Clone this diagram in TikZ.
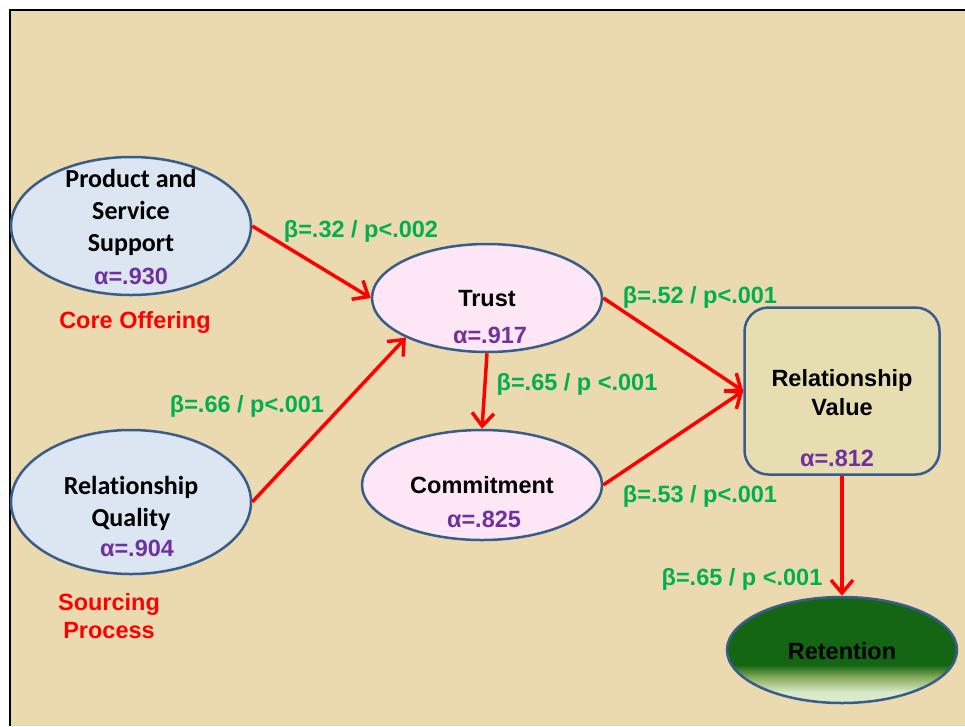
\documentclass[tikz,border=0pt]{standalone}
\usepackage{fontspec}
\setmainfont{Liberation Sans}
\newfontfamily\calibri[Ligatures=NoCommon]{Carlito}
\usetikzlibrary{shapes.geometric,arrows.meta}
\definecolor{paper}{RGB}{235,217,175}
\definecolor{rim}{RGB}{56,93,138}
\definecolor{skyfill}{RGB}{220,230,242}
\definecolor{pinkfill}{RGB}{253,230,246}
\definecolor{sandfill}{RGB}{230,222,176}
\definecolor{betagreen}{RGB}{0,176,80}
\definecolor{alphapurple}{RGB}{112,48,160}
\definecolor{retdark}{RGB}{20,102,20}
\definecolor{retmid}{RGB}{140,172,95}
\definecolor{retpale}{RGB}{218,234,202}
% dark green fading to pale at the bottom
\pgfdeclareverticalshading{retfade}{100bp}{color(0bp)=(retpale); color(30bp)=(retpale);
  color(37bp)=(retmid); color(43bp)=(retdark); color(100bp)=(retdark)}
\newcommand{\arialbig}{\fontsize{23.5}{29}\selectfont\bfseries}

\begin{document}
\begin{tikzpicture}[x=1pt,y=-1pt,
  blob/.style={ellipse,draw=rim,line width=2.5pt,inner sep=0pt},
  tit/.style={font=\arialbig,align=center},
  cal/.style={font=\calibri\fontsize{26}{32}\selectfont\bfseries,align=center},
  alph/.style={font=\arialbig,text=alphapurple},
  beta/.style={font=\arialbig,text=betagreen},
  grp/.style={font=\arialbig,text=red,align=center},
  eff/.style={draw=red,line width=3.5pt,-{Straight Barb[length=13pt,width=22pt]}}]
\useasboundingbox (0,0) rectangle (965,726);
\fill[paper] (10,10) rectangle (965,726);
\draw[line width=2pt] (10,726) -- (10,10) -- (965,10);
% antecedents
\node[blob,fill=skyfill,minimum width=240pt,minimum height=138pt] (pss) at (131,226) {};
\node[cal] (pss-t) at (131,212) {Product and\\Service\\Support};
\node[alph] (pss-a) at (131,276) {α=.930};
\node[grp] (core) at (135,322) {Core Offering};
\node[blob,fill=skyfill,minimum width=240pt,minimum height=144pt] (rq) at (131,502) {};
\node[cal] (rq-t) at (131,503) {Relationship\\Quality};
\node[alph] (rq-a) at (137,548) {α=.904};
\node[grp,font=\fontsize{23.5}{28}\selectfont\bfseries] (src) at (109,616) {Sourcing\\Process};
% mediators
\node[blob,fill=pinkfill,minimum width=230pt,minimum height=108pt] (trust) at (487,298) {};
\node[tit] (trust-t) at (487,299) {Trust};
\node[alph] (trust-a) at (490,335) {α=.917};
\node[blob,fill=pinkfill,minimum width=240pt,minimum height=110pt] (com) at (482,485) {};
\node[tit] (com-t) at (482,485) {Commitment};
\node[alph] (com-a) at (484,519) {α=.825};
% outcomes
\node[draw=rim,fill=sandfill,line width=2.5pt,rounded corners=24pt,minimum width=195pt,minimum height=167pt] (rv) at (842,391) {};
\node[tit] (rv-t) at (842,393) {Relationship\\Value};
\node[alph] (rv-a) at (837,458) {α=.812};
\node[blob,shading=retfade,minimum width=230pt,minimum height=106pt] (ret) at (842,650) {};
\node[tit] (ret-t) at (842,651) {Retention};
% paths
\draw[eff] (pss.east) -- (trust.west);
\draw[eff] (rq.east) -- (trust.206);
\draw[eff] (trust.south) -- (com.north);
\draw[eff] (trust.east) -- (rv.west);
\draw[eff] (com.east) -- (rv.west);
\draw[eff] (rv.south) -- (ret.north);
\node[beta] (b1) at (361,231) {β=.32 / p<.002};
\node[beta] (b2) at (247,406) {β=.66 / p<.001};
\node[beta] (b3) at (700,297) {β=.52 / p<.001};
\node[beta] (b4) at (577,384) {β=.65 / p <.001};
\node[beta] (b5) at (700,496) {β=.53 / p<.001};
\node[beta] (b6) at (742,579) {β=.65 / p <.001};
\end{tikzpicture}
\end{document}
